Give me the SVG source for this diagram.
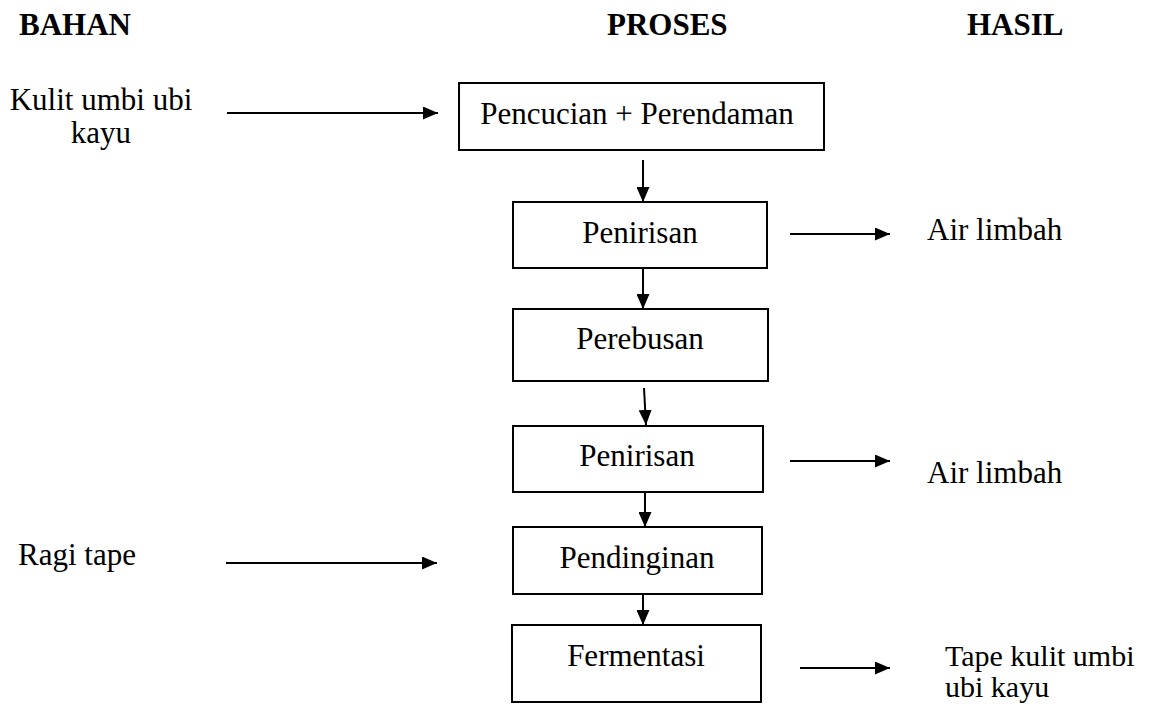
<svg xmlns="http://www.w3.org/2000/svg" width="1152" height="704" viewBox="0 0 1152 704">
<defs>
<marker id="ah" markerUnits="userSpaceOnUse" markerWidth="15" markerHeight="13" refX="15" refY="6.5" orient="auto">
<path d="M0,0 L15,6.5 L0,13 Z" fill="#000"/>
</marker>
<style>
text{font-family:"Liberation Serif","Times New Roman",serif;font-size:31px;fill:#000}
.h{font-weight:bold}
.c{text-anchor:middle}
.s{font-size:30px}
rect{fill:#fff;stroke:#000;stroke-width:2}
#connectors line{stroke:#000;stroke-width:2;marker-end:url(#ah)}
</style>
</defs>
<rect x="0" y="0" width="1152" height="704" style="stroke:none"/>
<g id="headers">
<text class="h" x="19" y="35">BAHAN</text>
<text class="h" x="607" y="35">PROSES</text>
<text class="h" x="967" y="35">HASIL</text>
</g>
<g id="in-kulit"><text class="c" x="101" y="110">Kulit umbi ubi</text><text class="c" x="101" y="143">kayu</text></g>
<g id="in-ragi"><text x="18" y="565">Ragi tape</text></g>
<g id="n1"><rect x="459" y="83" width="365" height="67"/><text class="c" x="637" y="124">Pencucian + Perendaman</text></g>
<g id="n2"><rect x="513" y="202" width="254" height="66"/><text class="c" x="640" y="243">Penirisan</text></g>
<g id="n3"><rect x="513" y="309" width="255" height="72"/><text class="c" x="640" y="349">Perebusan</text></g>
<g id="n4"><rect x="513" y="426" width="250" height="66"/><text class="c" x="637" y="466">Penirisan</text></g>
<g id="n5"><rect x="513" y="527" width="249" height="67"/><text class="c" x="637" y="568">Pendinginan</text></g>
<g id="n6"><rect x="512" y="625" width="249" height="77"/><text class="c" x="636" y="666">Fermentasi</text></g>
<g id="out1"><text x="927" y="240">Air limbah</text></g>
<g id="out2"><text x="927" y="483">Air limbah</text></g>
<g id="out3"><text class="s" x="945" y="666">Tape kulit umbi</text><text class="s" x="945" y="697">ubi kayu</text></g>
<g id="connectors">
<line x1="227" y1="113" x2="438" y2="113"/>
<line x1="226" y1="563" x2="437" y2="563"/>
<line x1="643" y1="160" x2="643" y2="202"/>
<line x1="643" y1="268" x2="643" y2="309"/>
<line x1="644" y1="388" x2="646" y2="425"/>
<line x1="645" y1="492" x2="645" y2="527"/>
<line x1="643" y1="594" x2="643" y2="625"/>
<line x1="790" y1="234" x2="890" y2="234"/>
<line x1="790" y1="461" x2="890" y2="461"/>
<line x1="800" y1="668" x2="890" y2="668"/>
</g>
</svg>
